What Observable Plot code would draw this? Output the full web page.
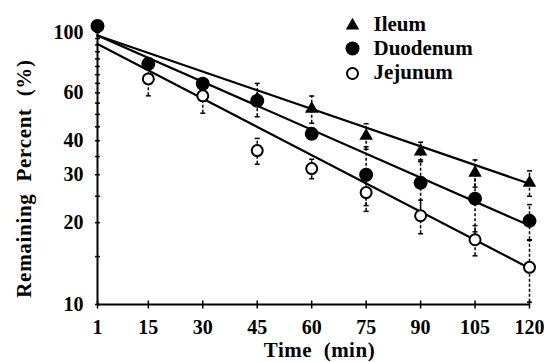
<!DOCTYPE html>
<html><head><meta charset="utf-8">
<script src="https://cdn.jsdelivr.net/npm/d3@7"></script>
<script src="https://cdn.jsdelivr.net/npm/@observablehq/plot@0.6"></script>
<style>
html,body{margin:0;padding:0;background:#fff;}
#chart svg, #chart svg text { font-family: "Liberation Serif", "DejaVu Serif", "Noto Serif", serif !important; font-weight: bold; }
</style></head><body><div id="chart"></div>
<script>
// ---- data ----
const times = [1, 15, 30, 45, 60, 75, 90, 105, 120];
const xTickLabels = ["1", "15", "30", "45", "60", "75", "90", "105", "120"];
const yTickValues = [10, 20, 30, 40, 60, 80, 100];
const yMinorTicks = [10, 15, 20, 25, 30, 35, 40, 45, 50, 55, 60, 65, 70, 75, 80, 85, 90, 95, 100];
const seriesNames = ["Ileum", "Duodenum", "Jejunum"];
const ileum    = [null, null, null, 57.0, 52.4, 41.7, 36.5, 30.5, 28.0];
const duodenum = [105.7, 76.7, 64.8, 56.1, 42.4, 30.0, 28.0, 24.5, 20.3];
const jejunum  = [null, 67.5, 58.5, 36.8, 31.6, 25.8, 21.2, 17.3, 13.7];
const ileumErr    = [null, null, null, 8, 6, 4.5, 3, 3.5, 3];
const duodenumErr = [null, null, null, null, null, 8, 6, 6, 3];
const jejunumErr  = [null, 9, 8, 4, 2.6, 2.7, 3, 2.2, 3.5];
const fitTimes = [1, 120];
const ileumFit    = [97.5, 27.8];
const duodenumFit = [97.5, 19.5];
const jejunumFit  = [90.8, 13.6];
const xTitle = "Time\u00a0 (min)";
const yTitle = "Remaining\u00a0 Percent\u00a0 (%)";

// ---- tables ----
const rows = [];
[[seriesNames[0], ileum, ileumErr], [seriesNames[1], duodenum, duodenumErr], [seriesNames[2], jejunum, jejunumErr]]
  .forEach(([name, vals, errs]) => times.forEach((t, i) => {
    if (vals[i] != null) rows.push({series: name, time: t, value: vals[i], err: errs[i]});
  }));
const fits = [];
[[seriesNames[0], ileumFit], [seriesNames[1], duodenumFit], [seriesNames[2], jejunumFit]]
  .forEach(([name, f]) => fitTimes.forEach((t, i) => fits.push({series: name, time: t, value: f[i]})));
const errRows = rows.filter(d => d.err != null);
const bySeries = n => rows.filter(d => d.series === n);

const hline = {draw(ctx, size) { const r = Math.sqrt(size / Math.PI); ctx.moveTo(-r, 0); ctx.lineTo(r, 0); }};
const vline = {draw(ctx, size) { const r = Math.sqrt(size / Math.PI); ctx.moveTo(0, -r); ctx.lineTo(0, r); }};

const chart = Plot.plot({
  width: 544, height: 362,
  marginLeft: 97, marginRight: 15, marginTop: 32, marginBottom: 58,
  style: {fontSize: "20px", background: "white", color: "black", overflow: "visible"},
  x: {domain: [1, 120]},
  y: {type: "log", domain: [10, 100]},
  marks: [
    // axes
    Plot.ruleY([10], {stroke: "black", strokeWidth: 2}),
    Plot.ruleX([1], {stroke: "black", strokeWidth: 2}),
    Plot.dot(yMinorTicks, {y: d => d, frameAnchor: "left", symbol: hline, r: 2.5, stroke: "black", fill: "none", strokeWidth: 1.5}),
    Plot.dot(times, {x: d => d, frameAnchor: "bottom", symbol: vline, r: 4, stroke: "black", fill: "none", strokeWidth: 1.5}),
    Plot.axisY(yTickValues, {tickSize: 0, tickPadding: 14, label: null, anchor: "left", fontSize: 20}),
    Plot.axisX(times, {tickSize: 0, tickPadding: 15, label: null, anchor: "bottom", fontSize: 20, tickFormat: d => xTickLabels[times.indexOf(d)]}),
    Plot.text([xTitle], {text: d => d, frameAnchor: "bottom", dx: 6, dy: 46, fontSize: 21, textAnchor: "middle", lineAnchor: "middle"}),
    Plot.text([yTitle], {text: d => d, frameAnchor: "left", rotate: -90, dx: -73, dy: 10, fontSize: 21, textAnchor: "middle", lineAnchor: "middle"}),
    // fitted lines
    Plot.line(fits, {x: "time", y: "value", z: "series", stroke: "black", strokeWidth: 2.2}),
    // error bars
    Plot.ruleX(errRows, {x: "time", y1: d => d.value - d.err, y2: d => d.value + d.err, stroke: "black", strokeWidth: 1.5, strokeDasharray: "3,2"}),
    Plot.dot(errRows, {x: "time", y: d => d.value - d.err, symbol: hline, r: 2.5, stroke: "black", fill: "none", strokeWidth: 1.5}),
    Plot.dot(errRows, {x: "time", y: d => d.value + d.err, symbol: hline, r: 2.5, stroke: "black", fill: "none", strokeWidth: 1.5}),
    // points
    Plot.dot(bySeries(seriesNames[2]), {x: "time", y: "value", symbol: "circle", r: 5.5, fill: "white", stroke: "black", strokeWidth: 2}),
    Plot.dot(bySeries(seriesNames[0]), {x: "time", y: "value", symbol: "triangle", r: 5, fill: "black", stroke: "none"}),
    Plot.dot(bySeries(seriesNames[1]), {x: "time", y: "value", symbol: "circle", r: 7, fill: "black", stroke: "none"}),
    // legend
    Plot.dot([seriesNames[0]], {frameAnchor: "top-left", dx: 255, dy: -7, symbol: "triangle", r: 5, fill: "black", stroke: "none"}),
    Plot.dot([seriesNames[1]], {frameAnchor: "top-left", dx: 255, dy: 16, symbol: "circle", r: 7, fill: "black", stroke: "none"}),
    Plot.dot([seriesNames[2]], {frameAnchor: "top-left", dx: 255, dy: 41, symbol: "circle", r: 5.5, fill: "white", stroke: "black", strokeWidth: 2}),
    Plot.text([seriesNames[0]], {text: d => d, frameAnchor: "top-left", dx: 276, dy: -8.5, textAnchor: "start", lineAnchor: "middle", fontSize: 21}),
    Plot.text([seriesNames[1]], {text: d => d, frameAnchor: "top-left", dx: 276, dy: 15.5, textAnchor: "start", lineAnchor: "middle", fontSize: 21}),
    Plot.text([seriesNames[2]], {text: d => d, frameAnchor: "top-left", dx: 276, dy: 40, textAnchor: "start", lineAnchor: "middle", fontSize: 21})
  ]
});
d3.select(chart).selectAll("text").filter(function() { return this.textContent === yTitle; }).style("letter-spacing", "0.7px");
d3.select(chart).selectAll("text").filter(function() { return this.textContent === xTitle; }).style("letter-spacing", "0.5px");
document.getElementById("chart").appendChild(chart);
</script></body></html>
